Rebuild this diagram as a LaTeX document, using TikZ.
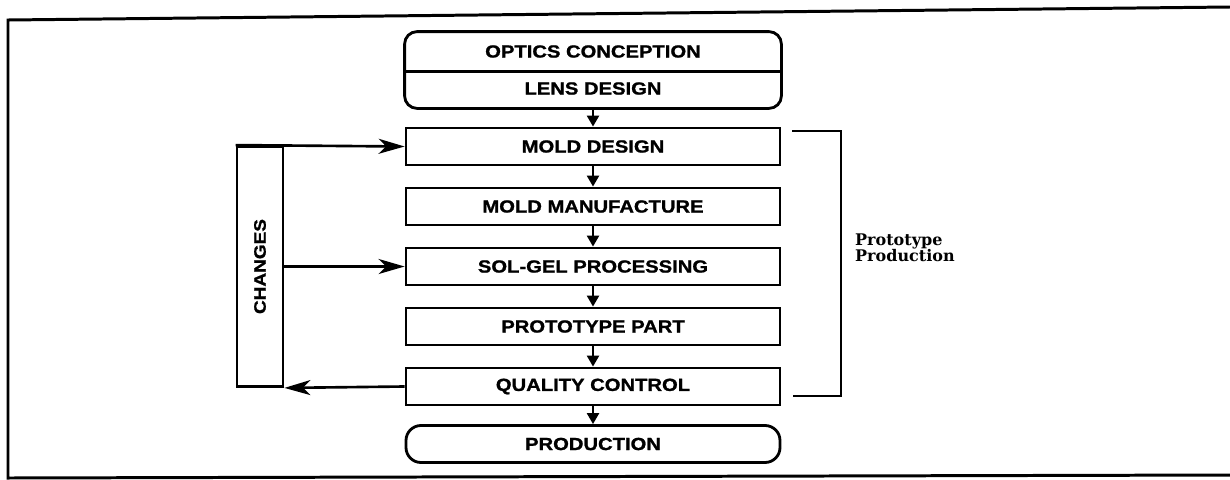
\documentclass[tikz,border=0pt]{standalone}
\usepackage{fontspec}
\setmainfont{Liberation Sans}[FakeStretch=1.15, BoldFeatures={FakeBold=1.2}]
\newfontfamily\notefont{DejaVu Serif}
\usepackage{graphicx}
\usepackage{tikz}
\usetikzlibrary{arrows.meta, positioning}
\tikzstyle{stepbox} = [rectangle, minimum width=7.48cm, minimum height=0.74cm, text centered, draw=black, line width=1.6pt, font=\fontsize{10}{12}\selectfont\bfseries]
\tikzstyle{endbox} = [stepbox, rounded corners=0.3cm]
\tikzstyle{halfbox} = [stepbox, draw=none]
\tikzstyle{loopbox} = [rectangle, minimum width=0.92cm, minimum height=4.8cm, draw=black, line width=1.6pt, font=\fontsize{9.4}{11}\selectfont\bfseries]
\tikzstyle{arrow} = [line width=1.3pt, -{Triangle[length=0.22cm, width=0.24cm]}]
\tikzstyle{fbarrow} = [line width=1.5pt, -{Stealth[length=0.52cm, width=0.3cm, inset=0.15cm]}]

\begin{document}
\begin{tikzpicture}[node distance=1.2cm]

        % Frame
        \useasboundingbox (0,0) rectangle (24.6,-9.58);
        \draw [line width=1.7pt] (24.6,-0.14) -- (0.16,-0.4) -- (0.16,-9.56) -- (24.6,-9.5);

        % Nodes
        \node (optics) [halfbox] at (11.86,-1.03) {OPTICS CONCEPTION};
        \node (lens) [halfbox, node distance=0.74cm, below of=optics] {LENS DESIGN};
        \node (molddesign) [stepbox, node distance=1.16cm, below of=lens] {MOLD DESIGN};
        \node (moldmake) [stepbox, below of=molddesign] {MOLD MANUFACTURE};
        \node (solgel) [stepbox, below of=moldmake] {SOL-GEL PROCESSING};
        \node (protopart) [stepbox, below of=solgel] {PROTOTYPE PART};
        \node (quality) [stepbox, below of=protopart] {QUALITY CONTROL};
        \node (production) [endbox, below of=quality, yshift=0.05cm] {PRODUCTION};
        \node (changes) [loopbox, node distance=6.66cm, left of=solgel] {\rotatebox{90}{CHANGES}};
        \node (protolabel) [anchor=west, align=left, font=\notefont\bfseries\fontsize{9.1}{9.1}\selectfont] at (16.98,-4.96) {Prototype\\Production};

        % Outline of the first box
        \draw [line width=1.6pt, rounded corners=0.25cm] (optics.north west) rectangle (lens.south east);
        \draw [line width=1.6pt] (optics.south west) -- (optics.south east);

        % Bracket
        \coordinate (brtop) at (15.84,-2.62);
        \coordinate (brbot) at (15.86,-7.92);
        \draw [line width=1.5pt] (brtop) -- ++(0.98,0) |- (brbot);

        % Arrows
        \draw [arrow] (lens) -- (molddesign);
        \draw [arrow] (molddesign) -- (moldmake);
        \draw [arrow] (moldmake) -- (solgel);
        \draw [arrow] (solgel) -- (protopart);
        \draw [arrow] (protopart) -- (quality);
        \draw [arrow] (quality) -- (production);
        \draw [fbarrow] (changes.north west) -- (molddesign.west);
        \draw [fbarrow] (changes.east) -- (solgel.west);
        \draw [fbarrow] (quality.west) -- (changes.south east);
    \end{tikzpicture}
\end{document}
